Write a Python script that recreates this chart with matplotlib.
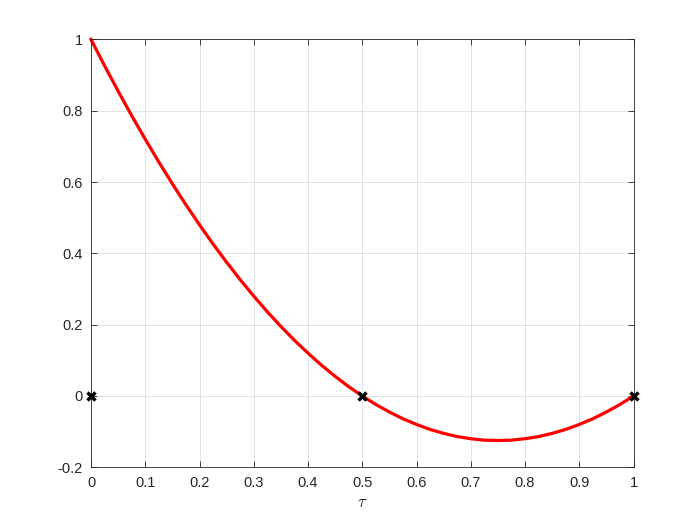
import matplotlib.pyplot as plt

# curve values at tau steps of 0.025
tau = [0, 0.025, 0.05, 0.075, 0.1, 0.125, 0.15, 0.175, 0.2, 0.225, 0.25,
       0.275, 0.3, 0.325, 0.35, 0.375, 0.4, 0.425, 0.45, 0.475, 0.5,
       0.525, 0.55, 0.575, 0.6, 0.625, 0.65, 0.675, 0.7, 0.725, 0.75,
       0.775, 0.8, 0.825, 0.85, 0.875, 0.9, 0.925, 0.95, 0.975, 1.0]
vals = [1.0, 0.926, 0.855, 0.786, 0.72, 0.656, 0.595, 0.536, 0.48, 0.426, 0.375,
        0.326, 0.28, 0.236, 0.195, 0.156, 0.12, 0.086, 0.055, 0.026, 0.0,
        -0.024, -0.045, -0.064, -0.08, -0.094, -0.105, -0.114, -0.12, -0.124, -0.125,
        -0.124, -0.12, -0.114, -0.105, -0.094, -0.08, -0.064, -0.045, -0.024, 0.0]

# node markers
nodes_x = [0, 0.5, 1]
nodes_y = [0, 0, 0]

plt.rcParams['font.family'] = ['Liberation Sans', 'DejaVu Sans']
plt.rcParams['mathtext.fontset'] = 'cm'

fig = plt.figure(figsize=(7, 5.25), dpi=100)
ax = fig.add_axes([0.13, 0.11, 0.775, 0.815])

ax.plot(tau, vals, color='red', linewidth=2.3, clip_on=False)
ax.plot(nodes_x, nodes_y, 'kx', markersize=6, markeredgewidth=2.5, clip_on=False, zorder=5)

ax.set_xlim(0, 1)
ax.set_ylim(-0.2, 1)
ax.set_xticks([i / 10 for i in range(11)])
ax.set_xticklabels(['0', '0.1', '0.2', '0.3', '0.4', '0.5', '0.6', '0.7', '0.8', '0.9', '1'])
ax.set_yticks([-0.2, 0, 0.2, 0.4, 0.6, 0.8, 1])
ax.set_yticklabels(['-0.2', '0', '0.2', '0.4', '0.6', '0.8', '1'])

ax.grid(True, color='#262626', alpha=0.15, linewidth=0.6)
ax.set_axisbelow(True)
ax.tick_params(direction='in', length=4, width=0.6, colors='#262626',
               labelsize=10.5, top=True, right=True, pad=6)
for s in ax.spines.values():
    s.set_color('#262626')
    s.set_linewidth(0.6)

ax.set_xlabel(r'$\tau$', fontsize=12, color='#262626')

fig.savefig('out.png', dpi=100)
